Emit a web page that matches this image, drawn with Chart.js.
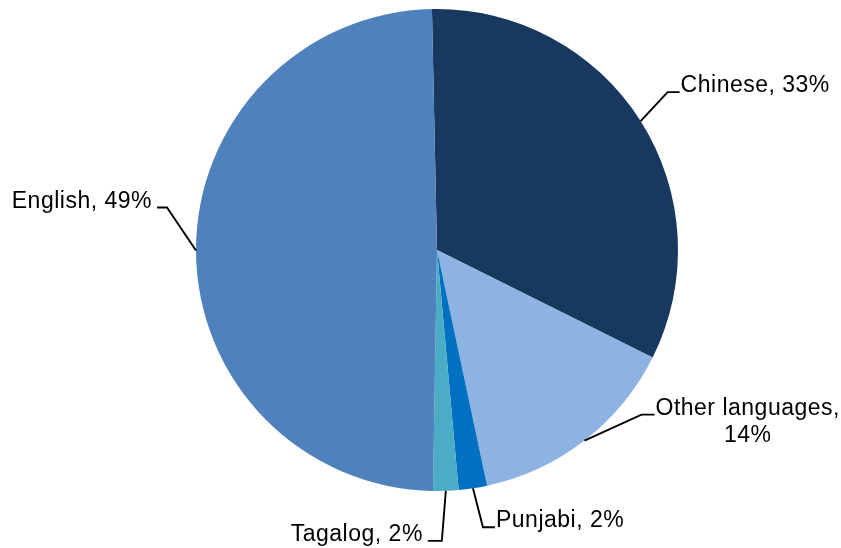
<!DOCTYPE html>
<html>
<head>
<meta charset="utf-8">
<title>Languages pie</title>
<script src="https://cdn.jsdelivr.net/npm/chart.js@4/dist/chart.umd.min.js"></script>
<style>
    html, body { margin: 0; padding: 0; background: #ffffff; }
    #wrap { width: 841px; height: 548px; position: relative; }
</style>
</head>
<body>
<div id="wrap"><canvas id="PieCanvas"></canvas></div>
<script>
// Data (share of people, percent)
const languages = ['Chinese', 'Other languages', 'Punjabi', 'Tagalog', 'English'];
const shares = [32.7, 14.3, 1.9, 1.7, 49.4];
const sliceColors = ['#18385F', '#8DB3E2', '#0070C0', '#4BACC6', '#4F81BD'];
// Label text lines, the number gets filled in from the shares
const labelLines = [['Chinese, {p}%'], ['Other languages,', '{p}%'], ['Punjabi, {p}%'], ['Tagalog, {p}%'], ['English, {p}%']];

(function() {
    // Where each leader line bends (relative to the point on the rim) and which side the text sits
    const leaderLayout = [
        {dx: 27, dy: -29, run: 12, side: 'right'},
        {dx: 57, dy: -26, run: 13, side: 'right'},
        {dx: 10, dy: 39, run: 12, side: 'right'},
        {dx: -4, dy: 50, run: -14, side: 'left'},
        {dx: -29, dy: -43, run: -10, side: 'left'}
    ];
    const labelFont = '23px "Liberation Sans", Arial, sans-serif';
    const lineStep = 27;

    const total = shares.reduce(function(a, b) { return a + b; }, 0);

    // Draws the leader lines and the labels after the pie is done
    const leaderLabels = {
        id: 'leaderLabels',
        afterDraw: function(chart) {
            const ctx = chart.ctx;
            const arcs = chart.getDatasetMeta(0).data;
            ctx.save();
            ctx.font = labelFont;
            ctx.letterSpacing = '0.5px';
            ctx.fillStyle = '#000000';
            ctx.strokeStyle = '#000000';
            ctx.lineWidth = 1.9;
            for (let i = 0; i < arcs.length; i++) {
                const p = arcs[i].getProps(['x', 'y', 'startAngle', 'endAngle', 'outerRadius'], true);
                const mid = (p.startAngle + p.endAngle) / 2;
                const ax = p.x + Math.cos(mid) * p.outerRadius;
                const ay = p.y + Math.sin(mid) * p.outerRadius;
                const lay = leaderLayout[i];
                const bx = ax + lay.dx;
                const by = ay + lay.dy;
                const ex = bx + lay.run;
                ctx.beginPath();
                ctx.moveTo(ax, ay);
                ctx.lineTo(bx, by);
                ctx.lineTo(ex, by);
                ctx.stroke();

                const pct = Math.round(shares[i] / total * 100);
                const lines = labelLines[i].map(function(t) { return t.replace('{p}', pct); });
                let maxW = 0;
                lines.forEach(function(t) { maxW = Math.max(maxW, ctx.measureText(t).width); });
                let left = lay.side === 'right' ? ex + 1 : ex - 5 - maxW;
                ctx.textBaseline = 'alphabetic';
                ctx.textAlign = 'center';
                for (let k = 0; k < lines.length; k++) {
                    ctx.fillText(lines[k], left + maxW / 2, by + k * lineStep);
                }
            }
            ctx.restore();
        }
    };

    const config = {
        type: 'pie',
        data: {
            labels: languages,
            datasets: [{
                data: shares,
                backgroundColor: sliceColors,
                borderWidth: 0,
                hoverOffset: 0
            }]
        },
        options: {
            responsive: true,
            maintainAspectRatio: false,
            animation: false,
            events: [],
            rotation: -1.2,
            layout: { padding: {top: 9, bottom: 57, left: 33, right: 0} },
            plugins: {
                legend: { display: false },
                tooltip: { enabled: false }
            }
        },
        plugins: [leaderLabels]
    };

    new Chart(document.getElementById('PieCanvas'), config);
}) ();
</script>
</body>
</html>
